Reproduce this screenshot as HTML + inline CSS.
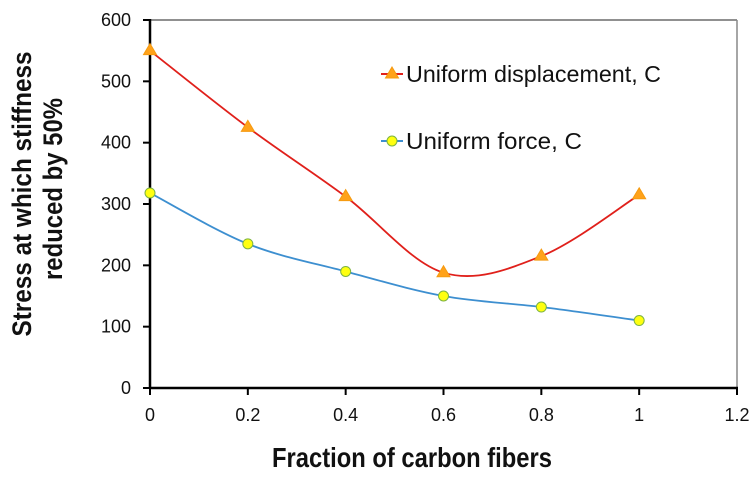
<!DOCTYPE html>
<html><head><meta charset="utf-8"><style>
html,body{margin:0;padding:0;background:#fff;}
svg{display:block;font-family:"Liberation Sans",sans-serif;}
</style></head><body>
<svg id="chart" width="754" height="478" viewBox="0 0 754 478">
<g id="grid"></g>
<g id="series"></g>
<g id="legend">
 <g>
  <line x1="381" y1="74" x2="403" y2="74" stroke="#e0201b" stroke-width="2"/>
  <polygon points="392,67 398.5,78 385.5,78" fill="#ffa21a" stroke="#f59a10" stroke-width="1"/>
  <text x="406" y="82" font-size="23" fill="#111" textLength="255" lengthAdjust="spacingAndGlyphs">Uniform displacement, C</text>
 </g>
 <g>
  <line x1="381" y1="141" x2="403" y2="141" stroke="#3d8fd0" stroke-width="2"/>
  <circle cx="392" cy="141" r="5" fill="#ffff10" stroke="#7cb342" stroke-width="1"/>
  <text x="406" y="149" font-size="23" fill="#111" textLength="176" lengthAdjust="spacingAndGlyphs">Uniform force, C</text>
 </g>
</g>
<g font-size="27" font-weight="bold" fill="#111" text-anchor="middle">
 <text transform="translate(31,194) rotate(-90)" x="0" y="0" textLength="285" lengthAdjust="spacingAndGlyphs">Stress at which stiffness</text>
 <text transform="translate(62,189) rotate(-90)" x="0" y="0" textLength="182" lengthAdjust="spacingAndGlyphs">reduced by 50%</text>
</g>
<text x="412" y="467" font-size="28" font-weight="bold" fill="#111" text-anchor="middle" textLength="280" lengthAdjust="spacingAndGlyphs">Fraction of carbon fibers</text>
</svg>
<script>
const xCats = [0, 0.2, 0.4, 0.6, 0.8, 1];
const dispValues = [550, 425, 312, 188, 215, 315];
const forceValues = [318, 235, 190, 150, 132, 110];
const xTicks = [0, 0.2, 0.4, 0.6, 0.8, 1, 1.2];
const yTicks = [0, 100, 200, 300, 400, 500, 600];

const NS = "http://www.w3.org/2000/svg";
const x = v => 150 + v * (737 - 150) / 1.2;
const y = v => 388 - v * (388 - 20) / 600;
function mk(tag, attrs, parent){ const e=document.createElementNS(NS,tag); for(const k in attrs) e.setAttribute(k,attrs[k]); parent.appendChild(e); return e; }
const grid = document.getElementById('grid');
const series = document.getElementById('series');

let fr = mk('line',{x1:150,y1:20,x2:737,y2:20,stroke:'#222','stroke-width':1},grid);


fr = mk('line',{x1:737,y1:20,x2:737,y2:388,stroke:'#888','stroke-width':1.5},grid);


let ax = mk('line',{x1:150,y1:19,x2:150,y2:389,stroke:'#000','stroke-width':2.5},grid);


ax = mk('line',{x1:149,y1:388,x2:738,y2:388,stroke:'#000','stroke-width':2.5},grid);



yTicks.forEach(t=>{
  mk('line',{x1:143,y1:y(t),x2:150,y2:y(t),stroke:'#000','stroke-width':2},grid);
  const tx = mk('text',{x:131,y:y(t)+6,'font-size':18,'text-anchor':'end',fill:'#111'},grid);
  tx.textContent = t;
  
  
});
xTicks.forEach(t=>{
  mk('line',{x1:x(t),y1:388,x2:x(t),y2:395,stroke:'#000','stroke-width':2},grid);
  const tx = mk('text',{x:x(t),y:421,'font-size':18,'text-anchor':'middle',fill:'#111'},grid);
  tx.textContent = t;
  
  
});

function smooth(pts){
  let d = `M${pts[0][0]},${pts[0][1]}`;
  for(let i=0;i<pts.length-1;i++){
    const p0=pts[Math.max(0,i-1)], p1=pts[i], p2=pts[i+1], p3=pts[Math.min(pts.length-1,i+2)];
    const t=1/6;
    const c1=[p1[0]+(p2[0]-p0[0])*t, p1[1]+(p2[1]-p0[1])*t];
    const c2=[p2[0]-(p3[0]-p1[0])*t, p2[1]-(p3[1]-p1[1])*t];
    d += ` C${c1[0]},${c1[1]} ${c2[0]},${c2[1]} ${p2[0]},${p2[1]}`;
  }
  return d;
}
function drawSeries(vals, color, name, marker){
  const pts = xCats.map((c,i)=>[x(c), y(vals[i])]);
  const p = mk('path',{d:smooth(pts),fill:'none',stroke:color,'stroke-width':1.8},series);
  
  
  pts.forEach(([px,py])=>{
    let m;
    if(marker==='tri'){
      m = mk('polygon',{points:`${px},${py-7} ${px+6.5},${py+4} ${px-6.5},${py+4}`,fill:'#ffa21a',stroke:'#f59a10','stroke-width':1},series);
    } else {
      m = mk('circle',{cx:px,cy:py,r:5,fill:'#ffff10',stroke:'#7cb342','stroke-width':1},series);
    }
    
    
  });
}
drawSeries(dispValues,'#e0201b','displacement','tri');
drawSeries(forceValues,'#3d8fd0','force','circle');
</script>
</body></html>
